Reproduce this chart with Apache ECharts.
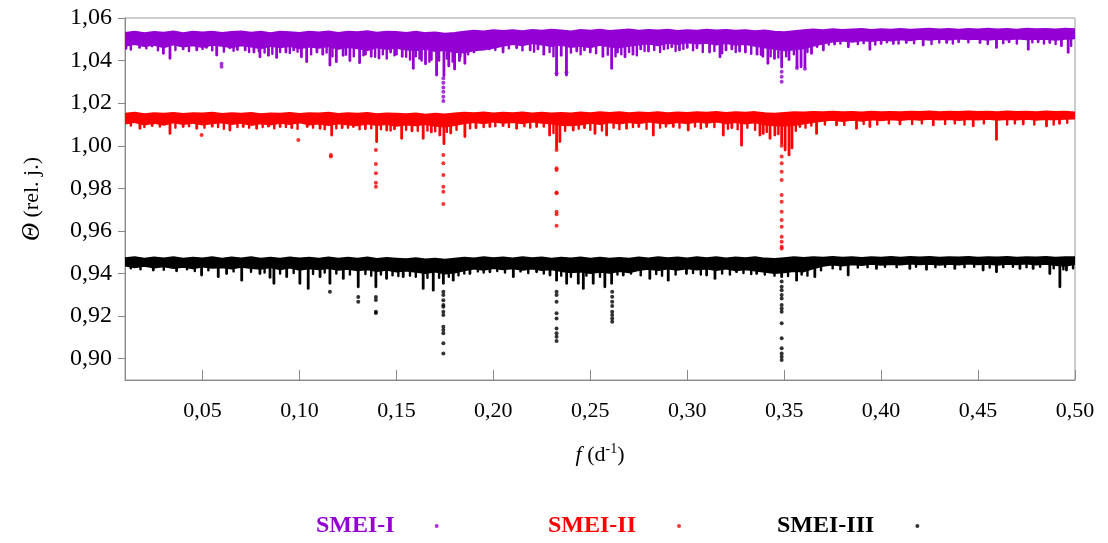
<!DOCTYPE html>
<html>
<head>
<meta charset="utf-8">
<script src="https://cdn.jsdelivr.net/npm/echarts@6/dist/echarts.min.js"></script>
<style>html,body{margin:0;padding:0;background:#fff;}#c{width:1108px;height:543px;}</style>
</head>
<body>
<div id="c"></div>
<script>
// ---------- DATA ----------
const xTicks = [0.05,0.10,0.15,0.20,0.25,0.30,0.35,0.40,0.45,0.50];
const yTicks = [0.90,0.92,0.94,0.96,0.98,1.00,1.02,1.04,1.06];
const seriesNames = ['SMEI-I','SMEI-II','SMEI-III'];

// dense core band of each series: frequencies, top edge, bottom edge
const fCore = [0.010,0.015,0.020,0.025,0.030,0.035,0.040,0.045,0.050,0.055,
               0.060,0.065,0.070,0.075,0.080,0.085,0.090,0.095,0.100,0.105,
               0.110,0.115,0.120,0.125,0.130,0.135,0.140,0.145,0.150,0.155,
               0.160,0.165,0.170,0.175,0.180,0.185,0.190,0.195,0.200,0.205,
               0.210,0.215,0.220,0.225,0.230,0.235,0.240,0.245,0.250,0.255,
               0.260,0.265,0.270,0.275,0.280,0.285,0.290,0.295,0.300,0.305,
               0.310,0.315,0.320,0.325,0.330,0.335,0.340,0.345,0.350,0.355,
               0.360,0.365,0.370,0.375,0.380,0.385,0.390,0.395,0.400,0.405,
               0.410,0.415,0.420,0.425,0.430,0.435,0.440,0.445,0.450,0.455,
               0.460,0.465,0.470,0.475,0.480,0.485,0.490,0.495,0.500];
const hiI = [1.0530,1.0536,1.0528,1.0534,1.0531,1.0537,1.0529,1.0535,1.0532,1.0536,
             1.0530,1.0534,1.0537,1.0531,1.0535,1.0529,1.0536,1.0533,1.0530,1.0536,
             1.0532,1.0537,1.0530,1.0535,1.0533,1.0538,1.0531,1.0536,1.0534,1.0530,
             1.0535,1.0529,1.0532,1.0526,1.0530,1.0536,1.0540,1.0537,1.0542,1.0539,
             1.0543,1.0538,1.0544,1.0540,1.0545,1.0541,1.0537,1.0544,1.0540,1.0545,
             1.0539,1.0543,1.0546,1.0540,1.0544,1.0541,1.0545,1.0539,1.0543,1.0540,
             1.0545,1.0541,1.0544,1.0540,1.0543,1.0538,1.0541,1.0536,1.0533,1.0538,
             1.0542,1.0546,1.0543,1.0547,1.0544,1.0546,1.0548,1.0544,1.0547,1.0545,
             1.0548,1.0545,1.0547,1.0549,1.0546,1.0548,1.0545,1.0548,1.0546,1.0549,
             1.0546,1.0548,1.0545,1.0549,1.0547,1.0548,1.0546,1.0549,1.0547];
const loI = [1.0470,1.0478,1.0468,1.0474,1.0462,1.0476,1.0466,1.0472,1.0464,1.0474,
             1.0470,1.0462,1.0472,1.0466,1.0458,1.0470,1.0463,1.0468,1.0458,1.0466,
             1.0460,1.0468,1.0455,1.0464,1.0458,1.0450,1.0462,1.0454,1.0460,1.0452,
             1.0448,1.0456,1.0445,1.0450,1.0440,1.0438,1.0448,1.0452,1.0460,1.0470,
             1.0478,1.0472,1.0482,1.0476,1.0468,1.0474,1.0464,1.0470,1.0462,1.0474,
             1.0466,1.0462,1.0470,1.0476,1.0480,1.0472,1.0484,1.0478,1.0486,1.0480,
             1.0484,1.0476,1.0482,1.0474,1.0478,1.0470,1.0462,1.0456,1.0448,1.0452,
             1.0458,1.0470,1.0480,1.0490,1.0494,1.0488,1.0496,1.0492,1.0498,1.0494,
             1.0500,1.0496,1.0502,1.0498,1.0503,1.0499,1.0504,1.0500,1.0502,1.0498,
             1.0503,1.0499,1.0504,1.0500,1.0503,1.0501,1.0498,1.0502,1.0505];
const hiII = [1.0150,1.0155,1.0148,1.0153,1.0150,1.0154,1.0149,1.0153,1.0151,1.0155,
              1.0149,1.0153,1.0150,1.0154,1.0148,1.0152,1.0150,1.0154,1.0149,1.0153,
              1.0151,1.0155,1.0149,1.0153,1.0150,1.0154,1.0148,1.0152,1.0150,1.0148,
              1.0152,1.0146,1.0150,1.0147,1.0152,1.0155,1.0153,1.0156,1.0152,1.0155,
              1.0153,1.0156,1.0152,1.0155,1.0151,1.0154,1.0152,1.0156,1.0153,1.0157,
              1.0154,1.0157,1.0153,1.0156,1.0154,1.0157,1.0153,1.0156,1.0154,1.0157,
              1.0155,1.0158,1.0154,1.0157,1.0155,1.0158,1.0153,1.0150,1.0154,1.0157,
              1.0156,1.0159,1.0157,1.0160,1.0157,1.0159,1.0156,1.0160,1.0157,1.0159,
              1.0157,1.0160,1.0158,1.0161,1.0157,1.0160,1.0158,1.0161,1.0158,1.0160,
              1.0157,1.0161,1.0158,1.0160,1.0157,1.0161,1.0158,1.0160,1.0156];
const loII = [1.0105,1.0112,1.0100,1.0108,1.0098,1.0110,1.0102,1.0108,1.0100,1.0106,
              1.0110,1.0102,1.0108,1.0098,1.0106,1.0100,1.0108,1.0102,1.0110,1.0100,
              1.0105,1.0098,1.0106,1.0100,1.0096,1.0104,1.0098,1.0102,1.0094,1.0100,
              1.0096,1.0102,1.0094,1.0090,1.0098,1.0106,1.0112,1.0106,1.0114,1.0108,
              1.0112,1.0106,1.0114,1.0108,1.0104,1.0098,1.0096,1.0100,1.0108,1.0102,
              1.0110,1.0104,1.0112,1.0106,1.0114,1.0108,1.0104,1.0112,1.0106,1.0114,
              1.0108,1.0114,1.0106,1.0112,1.0104,1.0110,1.0100,1.0096,1.0094,1.0098,
              1.0104,1.0112,1.0118,1.0122,1.0116,1.0122,1.0118,1.0124,1.0120,1.0125,
              1.0121,1.0126,1.0122,1.0127,1.0123,1.0126,1.0121,1.0126,1.0123,1.0127,
              1.0122,1.0126,1.0123,1.0127,1.0122,1.0126,1.0124,1.0127,1.0128];
const hiIII = [0.9472,0.9477,0.9470,0.9475,0.9471,0.9476,0.9469,0.9474,0.9471,0.9476,
               0.9470,0.9475,0.9471,0.9476,0.9470,0.9474,0.9469,0.9475,0.9471,0.9474,
               0.9470,0.9475,0.9469,0.9474,0.9470,0.9475,0.9468,0.9473,0.9470,0.9467,
               0.9472,0.9466,0.9470,0.9465,0.9470,0.9474,0.9471,0.9476,0.9472,0.9475,
               0.9471,0.9476,0.9472,0.9475,0.9470,0.9474,0.9471,0.9475,0.9470,0.9474,
               0.9469,0.9473,0.9470,0.9475,0.9471,0.9476,0.9472,0.9475,0.9471,0.9476,
               0.9472,0.9476,0.9471,0.9475,0.9472,0.9476,0.9470,0.9468,0.9472,0.9476,
               0.9473,0.9477,0.9474,0.9478,0.9474,0.9477,0.9473,0.9477,0.9474,0.9478,
               0.9474,0.9478,0.9475,0.9478,0.9474,0.9477,0.9475,0.9478,0.9474,0.9477,
               0.9475,0.9478,0.9474,0.9477,0.9475,0.9478,0.9474,0.9477,0.9476];
const loIII = [0.9438,0.9430,0.9436,0.9428,0.9434,0.9426,0.9432,0.9425,0.9433,0.9427,
               0.9430,0.9424,0.9432,0.9426,0.9422,0.9430,0.9420,0.9428,0.9418,0.9425,
               0.9420,0.9426,0.9418,0.9422,0.9415,0.9420,0.9412,0.9418,0.9410,0.9414,
               0.9408,0.9402,0.9410,0.9400,0.9405,0.9415,0.9424,0.9418,0.9426,0.9420,
               0.9425,0.9418,0.9424,0.9416,0.9420,0.9412,0.9406,0.9410,0.9402,0.9408,
               0.9404,0.9412,0.9406,0.9416,0.9422,0.9416,0.9424,0.9418,0.9425,0.9419,
               0.9424,0.9417,0.9423,0.9415,0.9420,0.9414,0.9408,0.9402,0.9406,0.9412,
               0.9410,0.9425,0.9436,0.9442,0.9438,0.9444,0.9440,0.9446,0.9441,0.9445,
               0.9442,0.9447,0.9443,0.9446,0.9441,0.9446,0.9442,0.9447,0.9443,0.9446,
               0.9441,0.9446,0.9443,0.9447,0.9442,0.9446,0.9440,0.9436,0.9445];
const midI = 1.050, midII = 1.013, midIII = 0.945;

// downward spikes (frequency, lowest value of the spike)
const spikesI = [[0.0105,1.0457],[0.0175,1.0462],[0.024,1.0468],[0.0298,1.0434],[0.0332,1.0411],[0.040,1.0455],[0.047,1.0450],[0.052,1.0462],[0.0573,1.0426],[0.064,1.0460],[0.068,1.0452],[0.072,1.0450],[0.0765,1.0440],[0.0796,1.0418],[0.084,1.0425],[0.0882,1.0415],[0.093,1.0440],[0.097,1.0450],[0.101,1.0418],[0.1037,1.0395],[0.109,1.0440],[0.112,1.0430],[0.1157,1.0379],[0.119,1.0395],[0.1225,1.0425],[0.126,1.0400],[0.131,1.0390],[0.134,1.0430],[0.137,1.0420],[0.141,1.0412],[0.147,1.0440],[0.150,1.0430],[0.153,1.0420],[0.1587,1.0364],[0.162,1.0410],[0.165,1.0385],[0.168,1.0405],[0.1707,1.0332],[0.1745,1.0330],[0.177,1.0375],[0.180,1.0360],[0.1825,1.0400],[0.1853,1.0387],[0.190,1.0440],[0.194,1.0460],[0.198,1.0455],[0.205,1.0440],[0.212,1.0460],[0.219,1.0450],[0.223,1.0455],[0.226,1.0430],[0.2326,1.0332],[0.235,1.0425],[0.2377,1.0332],[0.243,1.0445],[0.247,1.0450],[0.250,1.0440],[0.2565,1.0420],[0.261,1.0364],[0.264,1.0440],[0.2679,1.0418],[0.272,1.0430],[0.276,1.0455],[0.280,1.0445],[0.288,1.0455],[0.292,1.0465],[0.296,1.0450],[0.300,1.0462],[0.305,1.0460],[0.3115,1.0440],[0.3169,1.0418],[0.320,1.0450],[0.323,1.0455],[0.327,1.0445],[0.330,1.0440],[0.336,1.0430],[0.339,1.0420],[0.3416,1.0387],[0.345,1.0410],[0.3487,1.0370],[0.3525,1.0405],[0.3566,1.0371],[0.3587,1.0371],[0.3607,1.0371],[0.3641,1.0434],[0.3702,1.0450],[0.376,1.0478],[0.3831,1.0465],[0.3942,1.0453],[0.400,1.0480],[0.4063,1.0480],[0.413,1.0485],[0.4217,1.0473],[0.4338,1.0485],[0.440,1.0488],[0.451,1.0485],[0.4595,1.0462],[0.466,1.0488],[0.4759,1.0453],[0.481,1.0488],[0.487,1.0485],[0.493,1.0470],[0.4965,1.0439]];
const smallSpikesI = [[0.013,1.0452],[0.021,1.0458],[0.027,1.0448],[0.036,1.0450],[0.043,1.0445],[0.050,1.0455],[0.055,1.0448],[0.061,1.0442],[0.066,1.0446],[0.074,1.0440],[0.079,1.0445],[0.082,1.0438],[0.086,1.0432],[0.090,1.0440],[0.095,1.0436],[0.099,1.0442],[0.106,1.0430],[0.114,1.0438],[0.117,1.0420],[0.124,1.0428],[0.128,1.0420],[0.133,1.0425],[0.139,1.0418],[0.143,1.0430],[0.145,1.0410],[0.149,1.0425],[0.155,1.0418],[0.157,1.0405],[0.160,1.0420],[0.163,1.0400],[0.167,1.0395],[0.172,1.0400],[0.176,1.0410],[0.179,1.0395],[0.183,1.0420],[0.187,1.0430],[0.192,1.0455],[0.196,1.0462],[0.201,1.0450],[0.208,1.0458],[0.215,1.0448],[0.221,1.0442],[0.229,1.0440],[0.231,1.0420],[0.240,1.0438],[0.245,1.0430],[0.253,1.0435],[0.259,1.0428],[0.263,1.0420],[0.266,1.0430],[0.270,1.0440],[0.274,1.0425],[0.278,1.0445],[0.283,1.0450],[0.286,1.0440],[0.290,1.0458],[0.294,1.0445],[0.298,1.0455],[0.303,1.0448],[0.308,1.0440],[0.314,1.0445],[0.318,1.0435],[0.325,1.0440],[0.333,1.0432],[0.338,1.0428],[0.343,1.0420],[0.347,1.0415],[0.351,1.0420],[0.355,1.0430],[0.362,1.0440],[0.367,1.0465],[0.373,1.0475],[0.379,1.0480],[0.388,1.0478],[0.391,1.0482],[0.397,1.0475],[0.403,1.0486],[0.409,1.0480],[0.417,1.0482],[0.426,1.0478],[0.430,1.0485],[0.437,1.0480],[0.445,1.0486],[0.455,1.0478],[0.463,1.0482],[0.470,1.0480],[0.478,1.0486],[0.484,1.0480],[0.490,1.0478],[0.498,1.0470]];
const spikesII = [[0.0177,1.0082],[0.024,1.0095],[0.0332,1.0058],[0.040,1.0090],[0.047,1.0082],[0.055,1.0092],[0.0641,1.0074],[0.071,1.0090],[0.0779,1.0082],[0.084,1.0092],[0.090,1.0090],[0.096,1.0085],[0.104,1.0090],[0.1106,1.0082],[0.1166,1.0050],[0.122,1.0085],[0.1278,1.0090],[0.134,1.0080],[0.1398,1.0019],[0.145,1.0074],[0.149,1.0080],[0.1527,1.0035],[0.158,1.0070],[0.1638,1.0035],[0.168,1.0065],[0.1724,1.0050],[0.1745,1.0010],[0.178,1.0060],[0.1853,1.0043],[0.191,1.0085],[0.1982,1.0090],[0.205,1.0095],[0.212,1.0082],[0.2223,1.0090],[0.229,1.0050],[0.2326,0.9990],[0.2343,1.0020],[0.2412,1.0074],[0.247,1.0085],[0.2524,1.0058],[0.2584,1.0050],[0.2687,1.0082],[0.275,1.0090],[0.2825,1.0050],[0.2928,1.0090],[0.3005,1.0074],[0.310,1.0090],[0.3186,1.0050],[0.323,1.0085],[0.328,1.0003],[0.3375,1.0050],[0.3392,1.0058],[0.3427,1.0035],[0.3452,1.0050],[0.3487,1.0011],[0.3505,0.9980],[0.3525,0.9957],[0.3540,0.9990],[0.3581,1.0090],[0.3667,1.0058],[0.377,1.0098],[0.3873,1.0082],[0.3942,1.0090],[0.4097,1.0102],[0.4269,1.0098],[0.4475,1.0093],[0.4595,1.0030],[0.4733,1.0102],[0.4853,1.0093],[0.492,1.0105]];
const smallSpikesII = [[0.013,1.0095],[0.020,1.0088],[0.028,1.0090],[0.036,1.0085],[0.043,1.0092],[0.051,1.0085],[0.058,1.0088],[0.061,1.0080],[0.068,1.0088],[0.074,1.0085],[0.081,1.0088],[0.087,1.0082],[0.093,1.0088],[0.099,1.0080],[0.107,1.0085],[0.113,1.0078],[0.119,1.0082],[0.125,1.0085],[0.131,1.0078],[0.137,1.0082],[0.142,1.0078],[0.147,1.0072],[0.155,1.0075],[0.161,1.0070],[0.166,1.0072],[0.170,1.0068],[0.176,1.0065],[0.181,1.0075],[0.188,1.0082],[0.195,1.0088],[0.201,1.0092],[0.208,1.0088],[0.216,1.0092],[0.219,1.0085],[0.226,1.0090],[0.231,1.0060],[0.237,1.0070],[0.244,1.0080],[0.250,1.0075],[0.256,1.0072],[0.262,1.0085],[0.265,1.0078],[0.272,1.0088],[0.279,1.0080],[0.286,1.0085],[0.289,1.0090],[0.296,1.0085],[0.304,1.0090],[0.307,1.0082],[0.314,1.0088],[0.321,1.0080],[0.326,1.0078],[0.331,1.0085],[0.335,1.0075],[0.341,1.0065],[0.347,1.0055],[0.356,1.0070],[0.361,1.0085],[0.364,1.0095],[0.371,1.0100],[0.381,1.0098],[0.391,1.0102],[0.398,1.0100],[0.404,1.0105],[0.416,1.0102],[0.421,1.0105],[0.433,1.0102],[0.438,1.0105],[0.443,1.0100],[0.453,1.0105],[0.465,1.0100],[0.469,1.0105],[0.479,1.0100],[0.489,1.0100],[0.496,1.0108]];
const spikesIII = [[0.0246,0.9416],[0.0366,0.9413],[0.0495,0.9393],[0.0581,0.9385],[0.0624,0.9400],[0.0702,0.9369],[0.0796,0.9400],[0.0848,0.9382],[0.0868,0.9354],[0.0934,0.9385],[0.1002,0.9354],[0.1045,0.9330],[0.1106,0.9385],[0.1157,0.9354],[0.1226,0.9377],[0.1303,0.9338],[0.1394,0.9338],[0.1449,0.9377],[0.1535,0.9385],[0.1638,0.9330],[0.169,0.9322],[0.1742,0.9354],[0.1793,0.9369],[0.1879,0.9400],[0.1982,0.9408],[0.2103,0.9385],[0.2223,0.9408],[0.2292,0.9393],[0.2326,0.9369],[0.2378,0.9354],[0.2438,0.9354],[0.2464,0.9330],[0.2515,0.9354],[0.2575,0.9338],[0.261,0.9354],[0.267,0.9393],[0.2807,0.9377],[0.2902,0.9369],[0.2996,0.9400],[0.310,0.9393],[0.3143,0.9377],[0.3254,0.9408],[0.3358,0.9400],[0.3487,0.9385],[0.3564,0.9369],[0.3658,0.9385],[0.383,0.9393],[0.3976,0.9424],[0.4148,0.9424],[0.4234,0.9420],[0.438,0.9424],[0.4526,0.9416],[0.4595,0.9408],[0.4716,0.9424],[0.4784,0.9424],[0.487,0.9400],[0.4922,0.9338],[0.4956,0.9416]];
const smallSpikesIII = [[0.013,0.9425],[0.018,0.9420],[0.030,0.9418],[0.042,0.9420],[0.046,0.9412],[0.053,0.9415],[0.066,0.9410],[0.075,0.9408],[0.082,0.9405],[0.090,0.9400],[0.097,0.9402],[0.107,0.9398],[0.113,0.9405],[0.119,0.9400],[0.126,0.9395],[0.134,0.9398],[0.137,0.9390],[0.142,0.9395],[0.148,0.9392],[0.151,0.9388],[0.157,0.9390],[0.160,0.9385],[0.166,0.9380],[0.172,0.9380],[0.177,0.9385],[0.182,0.9392],[0.185,0.9400],[0.192,0.9410],[0.195,0.9405],[0.202,0.9412],[0.206,0.9405],[0.214,0.9410],[0.218,0.9402],[0.226,0.9400],[0.235,0.9390],[0.240,0.9385],[0.248,0.9390],[0.255,0.9385],[0.264,0.9395],[0.271,0.9400],[0.276,0.9392],[0.284,0.9398],[0.287,0.9390],[0.294,0.9395],[0.303,0.9402],[0.307,0.9395],[0.318,0.9400],[0.322,0.9395],[0.329,0.9402],[0.333,0.9398],[0.340,0.9395],[0.345,0.9390],[0.352,0.9388],[0.359,0.9395],[0.362,0.9390],[0.369,0.9415],[0.375,0.9425],[0.379,0.9420],[0.388,0.9428],[0.393,0.9430],[0.402,0.9432],[0.408,0.9430],[0.418,0.9432],[0.428,0.9430],[0.433,0.9432],[0.443,0.9430],[0.448,0.9432],[0.456,0.9428],[0.463,0.9430],[0.468,0.9432],[0.475,0.9430],[0.482,0.9432],[0.489,0.9425],[0.494,0.9420],[0.499,0.9425]];

// isolated deep points
const dotsI = [[0.0598,1.0385],[0.0598,1.0371],[0.1742,1.0317],[0.1742,1.0296],[0.1742,1.0274],[0.1742,1.0254],[0.1742,1.0230],[0.1742,1.0210],[0.2326,1.0340],[0.2377,1.0345],[0.3487,1.0348],[0.3487,1.0324],[0.3487,1.0301],[0.3566,1.0365],[0.3607,1.0362]];
const dotsII = [[0.0495,1.0050],[0.0994,1.0027],[0.1162,0.9957],[0.1162,0.9950],[0.1394,0.9980],[0.1394,0.9914],[0.1394,0.9871],[0.1394,0.9826],[0.1394,0.9808],[0.1742,0.9957],[0.1742,0.9918],[0.1742,0.9863],[0.1742,0.9808],[0.1742,0.9784],[0.1742,0.9726],[0.2326,0.9980],[0.2326,0.9894],[0.2326,0.9886],[0.2326,0.9780],[0.2326,0.9777],[0.2326,0.9690],[0.2326,0.9678],[0.2326,0.9624],[0.3487,1.0000],[0.3487,0.9949],[0.3487,0.9918],[0.3487,0.9878],[0.3487,0.9839],[0.3487,0.9769],[0.3487,0.9737],[0.3487,0.9690],[0.3487,0.9651],[0.3487,0.9620],[0.3487,0.9573],[0.3487,0.9549],[0.3487,0.9526],[0.3487,0.9518]];
const dotsIII = [[0.1157,0.9315],[0.1303,0.9290],[0.1303,0.9268],[0.1394,0.9290],[0.1394,0.9276],[0.1394,0.9220],[0.1394,0.9215],[0.1742,0.9315],[0.1742,0.9299],[0.1742,0.9275],[0.1742,0.9252],[0.1742,0.9244],[0.1742,0.9220],[0.1742,0.9205],[0.1742,0.9150],[0.1742,0.9135],[0.1742,0.9119],[0.1742,0.9072],[0.1742,0.9025],[0.2326,0.9314],[0.2326,0.9299],[0.2326,0.9267],[0.2326,0.9213],[0.2326,0.9189],[0.2326,0.9142],[0.2326,0.9119],[0.2326,0.9103],[0.2326,0.9083],[0.2613,0.9314],[0.2613,0.9291],[0.2613,0.9267],[0.2613,0.9247],[0.2613,0.9220],[0.2613,0.9205],[0.2613,0.9189],[0.2613,0.9174],[0.3487,0.9362],[0.3487,0.9338],[0.3487,0.9322],[0.3487,0.9299],[0.3487,0.9283],[0.3487,0.9252],[0.3487,0.9236],[0.3487,0.9220],[0.3487,0.9166],[0.3487,0.9096],[0.3487,0.9049],[0.3487,0.9025],[0.3487,0.9009],[0.3487,0.8994]];

// ---------- CHART ----------
const colors = ['#9400D3','#FF0000','#000000'];
const FONT = 'Liberation Serif';
const axisGray = '#8a8a8a';
const fmt = v => v.toFixed(2).replace('.', ',');

function bandSeries(color, hi, lo) {
  return {
    type: 'custom', silent: true, clip: true, z: 2,
    data: [[fCore[0], hi[0]]],
    renderItem: (params, api) => {
      const pts = [];
      for (let i = 0; i < fCore.length; i++) pts.push(api.coord([fCore[i], hi[i]]));
      for (let i = fCore.length - 1; i >= 0; i--) pts.push(api.coord([fCore[i], lo[i]]));
      return { type: 'polygon', shape: { points: pts }, style: { fill: color, stroke: color, lineWidth: 2, lineJoin: 'round' } };
    }
  };
}
function spikeSeries(color, mid, data, width) {
  return {
    type: 'custom', silent: true, clip: true, z: 2, data: data,
    renderItem: (params, api) => {
      const a = api.coord([api.value(0), mid]);
      const b = api.coord([api.value(0), api.value(1)]);
      return { type: 'line', shape: { x1: a[0], y1: a[1], x2: b[0], y2: b[1] },
               style: { stroke: color, lineWidth: width, lineCap: 'round' } };
    }
  };
}
function dotSeries(name, color, data) {
  return { type: 'scatter', name: name, data: data, symbol: 'circle', symbolSize: 4,
           itemStyle: { color: color }, z: 3, silent: true };
}
const legendX = [311, 543, 772];
const legendPad = [35, 36, 36];

const option = {
  animation: false,
  backgroundColor: '#fff',
  grid: { left: 125, right: 33, top: 18, bottom: 163, show: true, borderColor: '#9a9a9a', borderWidth: 1, backgroundColor: 'transparent' },
  legend: seriesNames.map((n, i) => ({
    left: legendX[i], top: 509, data: [n], icon: 'circle', itemWidth: 4, itemHeight: 4, align: 'right',
    selectedMode: false,
    textStyle: { color: colors[i], fontFamily: FONT, fontWeight: 'bold', fontSize: 24, padding: [0, legendPad[i], 0, 0] }
  })),
  xAxis: {
    type: 'value', min: 0.01, max: 0.50,
    name: '{i|f} (d{s|-1})', nameLocation: 'middle', nameGap: 62,
    nameTextStyle: { fontFamily: FONT, fontSize: 22, color: '#000',
      rich: { i: { fontStyle: 'italic', fontFamily: FONT, fontSize: 22, color: '#000' },
              s: { fontFamily: FONT, fontSize: 14, color: '#000', verticalAlign: 'top', lineHeight: 26 } } },
    axisLine: { show: true, lineStyle: { color: axisGray, width: 1 } },
    axisTick: { show: true, inside: true, length: 10, customValues: xTicks, lineStyle: { color: axisGray } },
    axisLabel: { customValues: xTicks, formatter: fmt, margin: 20, fontFamily: FONT, fontSize: 22, color: '#000' },
    splitLine: { show: false }
  },
  yAxis: {
    type: 'value', min: 0.89, max: 1.06,
    name: '{i|Θ} (rel. j.)', nameLocation: 'middle', nameGap: 80, nameRotate: 90,
    nameTextStyle: { fontFamily: FONT, fontSize: 22, color: '#000',
      rich: { i: { fontStyle: 'italic', fontFamily: FONT, fontSize: 25, color: '#000' } } },
    axisLine: { show: true, lineStyle: { color: axisGray, width: 1 } },
    axisTick: { show: true, inside: false, length: 7, customValues: yTicks, lineStyle: { color: axisGray } },
    axisLabel: { customValues: yTicks, formatter: fmt, margin: 13, fontFamily: FONT, fontSize: 24, color: '#000' },
    splitLine: { show: false }
  },
  series: [
    bandSeries(colors[0], hiI, loI), spikeSeries(colors[0], midI, spikesI, 2.8), spikeSeries(colors[0], midI, smallSpikesI, 2.4), dotSeries(seriesNames[0], colors[0], dotsI),
    bandSeries(colors[1], hiII, loII), spikeSeries(colors[1], midII, spikesII, 2.8), spikeSeries(colors[1], midII, smallSpikesII, 2.4), dotSeries(seriesNames[1], colors[1], dotsII),
    bandSeries(colors[2], hiIII, loIII), spikeSeries(colors[2], midIII, spikesIII, 2.8), spikeSeries(colors[2], midIII, smallSpikesIII, 2.4), dotSeries(seriesNames[2], colors[2], dotsIII)
  ]
};
const chart = echarts.init(document.getElementById('c'), null, { renderer: 'canvas' });
chart.setOption(option);
</script>
</body>
</html>
